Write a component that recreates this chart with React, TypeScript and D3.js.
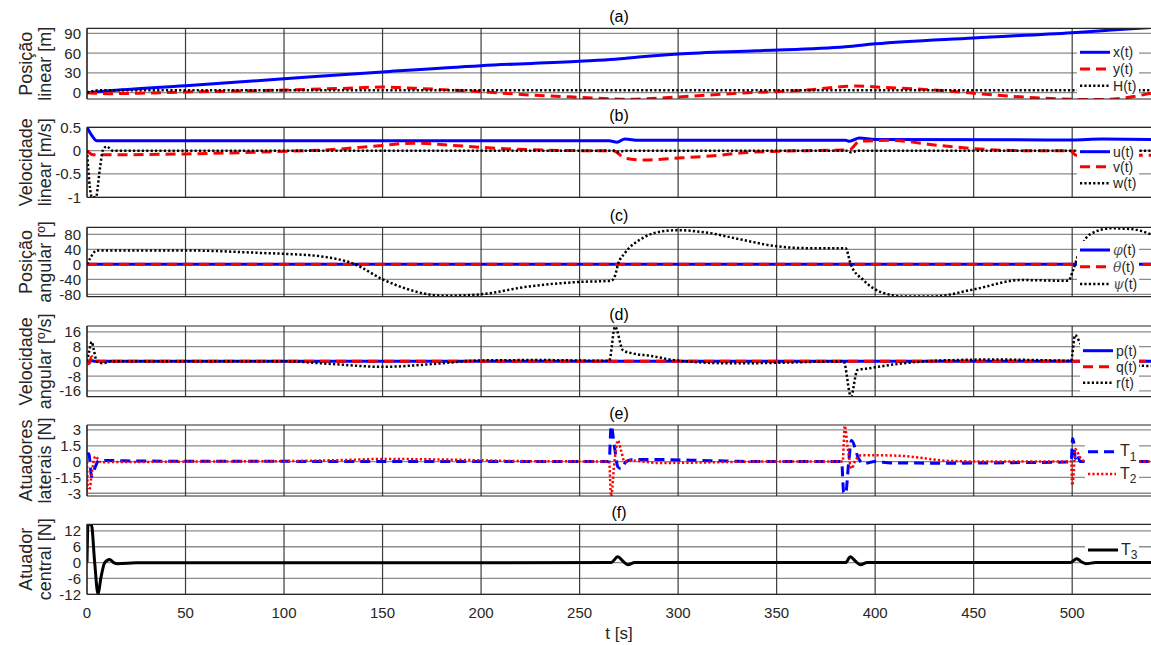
import * as d3 from "d3";

type Pt = [number, number];

// time axis
const tTicks = [0, 50, 100, 150, 200, 250, 300, 350, 400, 450, 500];

// (a) linear position [m]
const xPos: Pt[] = [[0, 0], [10, 2.5], [50, 10.5], [100, 21], [150, 31.5], [200, 41], [250, 47.5], [268, 50.5], [280, 54], [300, 58.5], [340, 63.5], [385, 69.5], [400, 74], [450, 83], [500, 91], [520, 95], [540, 99]];
const yPos: Pt[] = [[0, 0], [10, -1.5], [30, -0.5], [50, 1], [100, 4], [130, 6.5], [150, 8.5], [166, 6.7], [200, 1.5], [225, -3.5], [250, -7], [275, -10], [300, -6.5], [330, -1], [365, 4], [390, 10], [405, 8], [435, 3], [460, -3.5], [500, -10], [515, -10.5], [540, -1]];
const hPos: Pt[] = [[0, 0], [4, 3], [8, 3.7], [540, 3.7]];

// (b) linear velocity [m/s]
const uVel: Pt[] = [[0, 0.5], [2.5, 0.32], [5, 0.21], [265, 0.21], [269, 0.18], [273, 0.25], [280, 0.22], [385, 0.22], [387, 0.2], [392, 0.27], [400, 0.24], [500, 0.23], [515, 0.25], [540, 0.24]];
const vVel: Pt[] = [[0, 0], [3, -0.09], [50, -0.07], [96, -0.02], [123, 0.02], [147, 0.1], [166, 0.16], [183, 0.12], [200, 0.07], [216, 0.035], [250, 0], [267, 0], [273, -0.16], [283, -0.2], [300, -0.16], [318, -0.11], [335, -0.04], [365, 0], [387, 0.02], [392, 0.2], [407, 0.22], [433, 0.11], [453, 0.035], [475, 0], [499, 0], [502, -0.1], [540, -0.1]];
const wVel: Pt[] = [[0, 0], [1.5, -0.8], [2.5, -1], [4.5, -1], [6.5, -0.4], [8, 0], [10, 0.09], [13, 0], [268, 0], [270, -0.03], [273, 0], [386, 0], [388, -0.04], [391, 0], [540, 0]];

// (c) angular position [deg]
const phiAng: Pt[] = [[0, 0], [540, 0]];
const thetaAng: Pt[] = [[0, -2], [1, 0], [540, 0]];
const psiAng: Pt[] = [[0, 0], [2, 20], [5, 37], [50, 37], [90, 30], [100, 28], [119, 21], [136, 0], [150, -40], [162, -65], [171, -78], [182, -84], [200, -80], [223, -60], [250, -47], [266, -44], [268, -30], [269.5, 0], [273, 30], [282, 70], [292, 88], [300, 91], [314, 85], [332, 66], [350, 48], [367, 43], [385, 43], [387.6, 0], [394, -42], [403, -74], [415, -86], [429, -86], [450, -67], [474, -42], [498, -44], [500.5, -15], [504, 40], [509, 80], [520, 96], [530, 94], [540, 80]];

// (d) angular velocity [deg/s]
const pAng: Pt[] = [[0, 0], [1, -1], [2, 0.5], [4, 0], [540, 0]];
const qAng: Pt[] = [[0, -1.5], [1, -1], [2.5, 2.5], [4, 0], [540, 0]];
const rAng: Pt[] = [[0, 0], [1, 5], [2.4, 10.6], [3.5, 6], [5, 0], [8, -1], [12, 0], [100, 0], [125, -1.5], [150, -3], [175, -1.5], [200, 0.5], [230, 0.7], [265, 0.3], [268, 18.8], [272, 6], [277, 4.3], [286, 3], [299, 0.5], [328, -1.1], [350, -0.8], [384, 0], [387.7, -19], [391, -4.7], [396, -3.9], [413, -1.2], [430, 0.3], [460, 1], [490, 0.5], [499.4, 0.3], [501.5, 14.3], [504, 10], [510, 2], [525, -2], [540, -2.5]];

// (e) lateral actuators [N]
const t1Force: Pt[] = [[0, 0.7], [1, 0.75], [1.5, 0], [2.3, -1.4], [4, -0.6], [6, 0.1], [12, 0.1], [25, 0.05], [265, 0], [266, 3.4], [267.7, 1.4], [269.4, -0.5], [271, -0.67], [273.6, 0], [277, 0.2], [290, 0.2], [307, 0.13], [324, 0.06], [341, 0], [383, 0], [384, -2.9], [385, -3.05], [386.6, 0], [388, 2], [391.6, 0.3], [394, -0.2], [400, 0], [408, -0.13], [440, -0.15], [470, -0.1], [497, -0.04], [499.5, 0], [500.2, 2.2], [501, 1.5], [501.5, 0.3], [502.5, 0.7], [504, 0], [540, 0]];
const t2Force: Pt[] = [[0, 0], [0.5, -2.7], [1.2, -2.7], [2.5, -1], [4, 0.43], [4.5, 0.5], [6.3, 0], [8, -0.05], [50, 0], [100, 0.05], [130, 0.15], [150, 0.25], [180, 0.2], [220, 0.05], [265, 0], [266, -3.3], [267.7, 0], [269.4, 2], [271, 1.1], [272.8, 0], [275.3, 0.12], [290, -0.13], [307, -0.1], [341, 0], [383.5, 0], [384.6, 3.4], [386, 1.4], [388, -0.67], [390, 0.13], [393, 0.6], [400, 0.6], [413, 0.55], [422, 0.38], [438, 0.06], [460, 0], [499.5, 0], [500, -2.25], [500.8, -1], [501.5, 1.2], [504, 0.4], [507, 0], [540, 0]];

// (f) central actuator [N]
const t3Force: Pt[] = [[0, 0], [0.5, 14.5], [2.2, 14.5], [3.9, 0], [5.6, -12], [7, -6], [9, 0], [11.5, 1.2], [13.5, 0], [15.7, -0.4], [25, -0.1], [266, 0], [269.4, 2.2], [272, 0.5], [274.5, -0.8], [278, 0], [385, 0], [387.4, 2.2], [390, 0.5], [392.5, -0.8], [396, 0], [499, 0], [502.3, 1.5], [505, 0.2], [507, -0.4], [512, 0], [540, 0]];

const BLUE = "#0000ff";
const RED = "#ff0000";
const BLACK = "#000000";
const DASH = "10,6";
const DOT = "2.2,2.2";

const font = "'Liberation Sans', Arial, Helvetica, sans-serif";
const left = 87;
const right = 1151;

const panels = [
  {
    title: "(a)", label: ["Posição", "linear [m]"], top: 28.3, bottom: 99, domain: [-9.6, 97.6], ticks: [0, 30, 60, 90],
    legend: { y: [52.3, 69, 85.7], x0: 1080, x1: 1110, tx: 1113 },
    series: [
      { name: "x(t)", data: xPos, color: BLUE, dash: "", w: 3 },
      { name: "y(t)", data: yPos, color: RED, dash: DASH, w: 3 },
      { name: "H(t)", data: hPos, color: BLACK, dash: DOT, w: 2.5 },
    ],
  },
  {
    title: "(b)", label: ["Velocidade", "linear [m/s]"], top: 127.3, bottom: 197.3, domain: [-1, 0.5], ticks: [-1, -0.5, 0, 0.5],
    legend: { y: [151.7, 166.7, 183.3], x0: 1080, x1: 1110, tx: 1113 },
    series: [
      { name: "u(t)", data: uVel, color: BLUE, dash: "", w: 3 },
      { name: "v(t)", data: vVel, color: RED, dash: DASH, w: 3 },
      { name: "w(t)", data: wVel, color: BLACK, dash: DOT, w: 2.5 },
    ],
  },
  {
    title: "(c)", label: ["Posição", "angular [º]"], top: 227.3, bottom: 296.7, domain: [-86.4, 98.7], ticks: [-80, -40, 0, 40, 80],
    legend: { y: [250, 266.7, 284], x0: 1080, x1: 1110, tx: 1113 },
    series: [
      { name: "φ(t)", data: phiAng, color: BLUE, dash: "", w: 3 },
      { name: "θ(t)", data: thetaAng, color: RED, dash: DASH, w: 3 },
      { name: "ψ(t)", data: psiAng, color: BLACK, dash: DOT, w: 2.5 },
    ],
  },
  {
    title: "(d)", label: ["Velocidade", "angular [º/s]"], top: 326, bottom: 396.7, domain: [-19.2, 19.2], ticks: [-16, -8, 0, 8, 16],
    legend: { y: [350.7, 366.7, 382.7], x0: 1083, x1: 1113, tx: 1116 },
    series: [
      { name: "p(t)", data: pAng, color: BLUE, dash: "", w: 3 },
      { name: "q(t)", data: qAng, color: RED, dash: DASH, w: 3 },
      { name: "r(t)", data: rAng, color: BLACK, dash: DOT, w: 2.5 },
    ],
  },
  {
    title: "(e)", label: ["Atuadores", "laterais [N]"], top: 425, bottom: 496, domain: [-3.26, 3.47], ticks: [-3, -1.5, 0, 1.5, 3],
    legend: { y: [451.7, 474], x0: 1088, x1: 1116, tx: 1120 },
    series: [
      { name: "T_1", data: t1Force, color: BLUE, dash: DASH, w: 3 },
      { name: "T_2", data: t2Force, color: RED, dash: DOT, w: 2.5 },
    ],
  },
  {
    title: "(f)", label: ["Atuador", "central [N]"], top: 524.3, bottom: 594.3, domain: [-12, 14.5], ticks: [-12, -6, 0, 6, 12],
    legend: { y: [550], x0: 1088, x1: 1118, tx: 1121 },
    series: [
      { name: "T_3", data: t3Force, color: BLACK, dash: "", w: 3 },
    ],
  },
];

function LegendText(props: { name: string; x: number; y: number }) {
  const { name, x, y } = props;
  if (name.includes("_")) {
    const [base, sub] = name.split("_");
    return (
      <text x={x} y={y - 1} fontSize={16} fill="#262626" fontFamily={font} dominantBaseline="central">
        {base}
        <tspan fontSize={12} dy={6}>{sub}</tspan>
      </text>
    );
  }
  const greek = /^[φθψ]/.test(name);
  return (
    <text x={x} y={y} fontSize={14} fill="#262626" fontFamily={font} dominantBaseline="central">
      {greek ? <tspan fontStyle="italic" fontFamily="'DejaVu Serif', serif" fill="#555">{name[0]}</tspan> : name[0]}
      {name.slice(1)}
    </text>
  );
}

export default function App() {
  const x = d3.scaleLinear().domain([0, 540]).range([left, right]);

  return (
    <svg width={1151} height={645} style={{ position: "absolute", left: 0, top: 0, background: "#fff" }}>
      {panels.map((p, i) => {
        const y = d3.scaleLinear().domain(p.domain).range([p.bottom, p.top]);
        const line = d3.line<Pt>().x(d => x(d[0])).y(d => y(d[1])).curve(d3.curveMonotoneX);
        const mid = (p.top + p.bottom) / 2;
        const lg = p.legend;
        return (
          <g key={p.title}>
            <clipPath id={"clip" + i}>
              <rect x={left} y={p.top} width={right - left} height={p.bottom - p.top} />
            </clipPath>
            {/* grid */}
            {p.ticks.map(v => (
              <line key={"h" + v} x1={left} x2={right} y1={y(v)} y2={y(v)} stroke="#8c8c8c" strokeWidth={1.3} />
            ))}
            {tTicks.map(t => (
              <line key={"v" + t} x1={x(t)} x2={x(t)} y1={p.top} y2={p.bottom} stroke="#3c3c3c" strokeWidth={1.2} />
            ))}
            {/* series */}
            <g clipPath={`url(#clip${i})`}>
              {p.series.map(s => (
                <path key={s.name} d={line(s.data) || ""} fill="none" stroke={s.color} strokeWidth={s.w}
                  strokeDasharray={s.dash || undefined} strokeLinejoin="round" />
              ))}
            </g>
            {/* box */}
            <line x1={left} x2={right} y1={p.top} y2={p.top} stroke="#262626" strokeWidth={1.2} />
            <line x1={left} x2={right} y1={p.bottom} y2={p.bottom} stroke="#262626" strokeWidth={1.2} />
            <line x1={left} x2={left} y1={p.top} y2={p.bottom} stroke="#262626" strokeWidth={1.2} />
            {/* y tick labels */}
            {p.ticks.map(v => (
              <text key={"t" + v} x={left - 6} y={y(v)} textAnchor="end" dominantBaseline="central"
                fontSize={15} fill="#262626" fontFamily={font}>{String(v)}</text>
            ))}
            {/* legend */}
            <rect x={lg.x0 - 3} y={lg.y[0] - 9} width={1139 - lg.x0 + 3} height={lg.y[lg.y.length - 1] - lg.y[0] + 18} fill="#fff" />
            {p.series.map((s, k) => (
              <g key={"l" + s.name}>
                <line x1={lg.x0} x2={lg.x1} y1={lg.y[k]} y2={lg.y[k]} stroke={s.color} strokeWidth={s.w}
                  strokeDasharray={s.dash || undefined} />
                <LegendText name={s.name} x={lg.tx} y={lg.y[k]} />
              </g>
            ))}
            {/* title */}
            <text x={(left + right) / 2} y={p.top - 6} textAnchor="middle" fontSize={16} fill="#000" fontFamily={font}>{p.title}</text>
            {/* y label */}
            <g transform={`translate(0,${mid}) rotate(-90)`}>
              <text x={0} y={32} textAnchor="middle" fontSize={18} fill="#262626" fontFamily={font}>{p.label[0]}</text>
              <text x={0} y={51} textAnchor="middle" fontSize={18} fill="#262626" fontFamily={font}>{p.label[1]}</text>
            </g>
          </g>
        );
      })}
      {/* x tick labels */}
      {tTicks.map(t => (
        <text key={"xt" + t} x={x(t)} y={612} textAnchor="middle" dominantBaseline="central" fontSize={15}
          fill="#262626" fontFamily={font}>{String(t)}</text>
      ))}
      <text x={(left + right) / 2} y={639} textAnchor="middle" fontSize={17} fill="#262626" fontFamily={font}>t [s]</text>
    </svg>
  );
}
